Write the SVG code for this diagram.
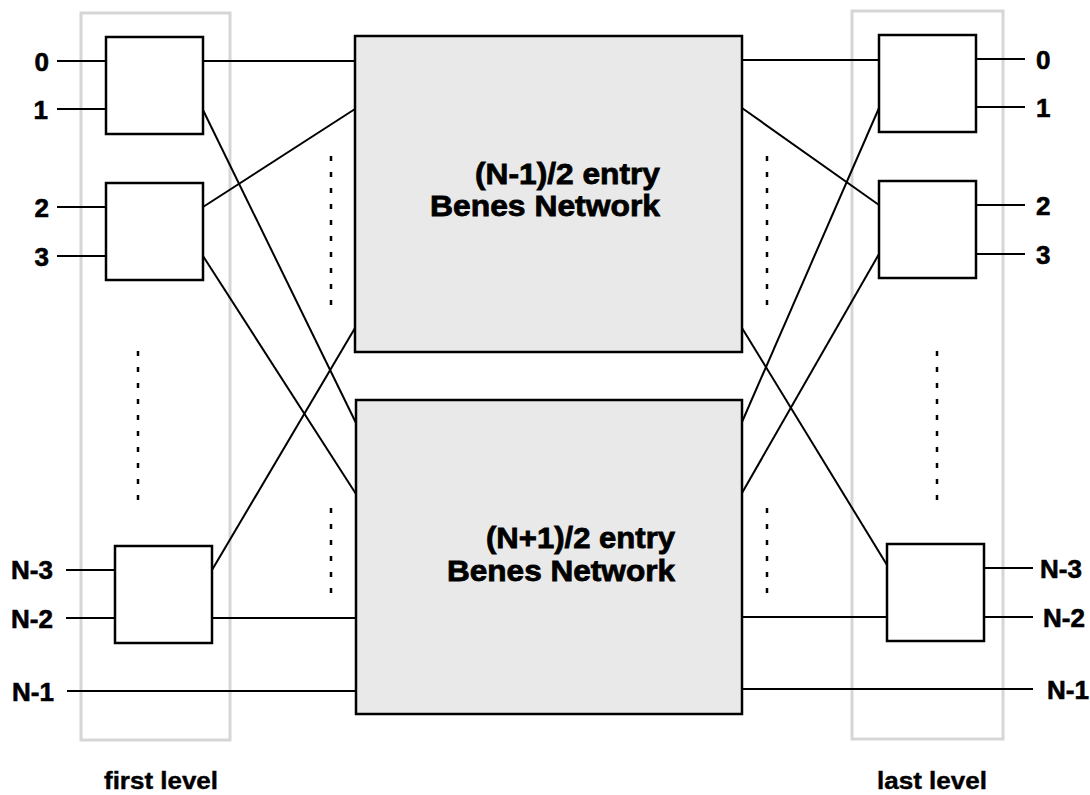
<svg xmlns="http://www.w3.org/2000/svg" width="1090" height="795" viewBox="0 0 1090 795">
<style>
.lvl{fill:none;stroke:#d6d6d6;stroke-width:3}
.sw{fill:#fff;stroke:#000;stroke-width:2.5}
.net{fill:#e9e9e9;stroke:#000;stroke-width:2.5}
.wire{fill:none;stroke:#000;stroke-width:2}
.dots{fill:none;stroke:#000;stroke-width:2.5;stroke-dasharray:5 11}
.lbl{font-family:"Liberation Sans",Arial,sans-serif;font-weight:bold;font-size:26px;fill:#000;stroke:#000;stroke-width:0.6}
.big{font-family:"Liberation Sans",Arial,sans-serif;font-weight:bold;font-size:30px;fill:#000;stroke:#000;stroke-width:0.8}
.cap{font-family:"Liberation Sans",Arial,sans-serif;font-weight:bold;font-size:23px;fill:#000;stroke:#000;stroke-width:0.4}
</style>
<rect width="1090" height="795" fill="#fff"/>
<g id="level-first"><rect class="lvl" x="81" y="13" width="149" height="727"/></g>
<g id="level-last"><rect class="lvl" x="852" y="11" width="151" height="728"/></g>
<g id="connectors">
<line class="wire" x1="57" y1="61" x2="106" y2="61"/>
<line class="wire" x1="57" y1="109" x2="106" y2="109"/>
<line class="wire" x1="57" y1="207" x2="106" y2="207"/>
<line class="wire" x1="57" y1="256" x2="106" y2="256"/>
<line class="wire" x1="66" y1="570" x2="115" y2="570"/>
<line class="wire" x1="66" y1="618" x2="115" y2="618"/>
<line class="wire" x1="67" y1="691" x2="356" y2="691"/>
<line class="wire" x1="203" y1="61" x2="355" y2="61"/>
<line class="wire" x1="203" y1="110" x2="356" y2="423"/>
<line class="wire" x1="203" y1="207" x2="355" y2="109"/>
<line class="wire" x1="203" y1="256" x2="356" y2="494"/>
<line class="wire" x1="212" y1="570" x2="355" y2="328"/>
<line class="wire" x1="212" y1="618" x2="356" y2="618"/>
<line class="wire" x1="742" y1="60" x2="879" y2="60"/>
<line class="wire" x1="742" y1="108" x2="879" y2="205"/>
<line class="wire" x1="742" y1="422" x2="879" y2="108"/>
<line class="wire" x1="742" y1="493" x2="879" y2="254"/>
<line class="wire" x1="742" y1="328" x2="887" y2="565"/>
<line class="wire" x1="742" y1="617" x2="887" y2="617"/>
<line class="wire" x1="742" y1="689" x2="1033" y2="689"/>
<line class="wire" x1="976" y1="59" x2="1025" y2="59"/>
<line class="wire" x1="976" y1="107" x2="1025" y2="107"/>
<line class="wire" x1="976" y1="205" x2="1025" y2="205"/>
<line class="wire" x1="976" y1="254" x2="1025" y2="254"/>
<line class="wire" x1="984" y1="568" x2="1033" y2="568"/>
<line class="wire" x1="984" y1="617" x2="1033" y2="617"/>
<line class="dots" x1="331" y1="156" x2="331" y2="305"/>
<line class="dots" x1="331" y1="508" x2="331" y2="595"/>
<line class="dots" x1="138" y1="351" x2="138" y2="500"/>
<line class="dots" x1="767" y1="156" x2="767" y2="305"/>
<line class="dots" x1="767" y1="508" x2="767" y2="595"/>
<line class="dots" x1="937" y1="351" x2="937" y2="500"/>
</g>
<g id="sw-l1"><rect class="sw" x="106" y="37" width="97" height="97"/></g>
<g id="sw-l2"><rect class="sw" x="106" y="183" width="97" height="97"/></g>
<g id="sw-l3"><rect class="sw" x="115" y="546" width="97" height="97"/></g>
<g id="sw-r1"><rect class="sw" x="879" y="35" width="97" height="97"/></g>
<g id="sw-r2"><rect class="sw" x="879" y="181" width="97" height="97"/></g>
<g id="sw-r3"><rect class="sw" x="887" y="544" width="97" height="97"/></g>
<g id="net-top">
<rect class="net" x="355" y="36" width="387" height="316"/>
<text class="big" x="660" y="184" text-anchor="end" textLength="185" lengthAdjust="spacingAndGlyphs">(N-1)/2 entry</text>
<text class="big" x="660" y="216" text-anchor="end" textLength="230" lengthAdjust="spacingAndGlyphs">Benes Network</text>
</g>
<g id="net-bottom">
<rect class="net" x="356" y="400" width="386" height="314"/>
<text class="big" x="675" y="548" text-anchor="end" textLength="189" lengthAdjust="spacingAndGlyphs">(N+1)/2 entry</text>
<text class="big" x="675" y="581" text-anchor="end" textLength="228" lengthAdjust="spacingAndGlyphs">Benes Network</text>
</g>
<g id="labels">
<text class="lbl" x="49" y="71" text-anchor="end">0</text>
<text class="lbl" x="48" y="119" text-anchor="end">1</text>
<text class="lbl" x="49" y="217" text-anchor="end">2</text>
<text class="lbl" x="49" y="266" text-anchor="end">3</text>
<text class="lbl" x="53" y="579" text-anchor="end">N-3</text>
<text class="lbl" x="53" y="628" text-anchor="end">N-2</text>
<text class="lbl" x="54" y="701" text-anchor="end">N-1</text>
<text class="lbl" x="1036" y="69">0</text>
<text class="lbl" x="1036" y="117">1</text>
<text class="lbl" x="1036" y="215">2</text>
<text class="lbl" x="1036" y="264">3</text>
<text class="lbl" x="1040" y="578">N-3</text>
<text class="lbl" x="1043" y="627">N-2</text>
<text class="lbl" x="1047" y="699">N-1</text>
<text class="cap" x="104" y="789" textLength="114" lengthAdjust="spacingAndGlyphs">first level</text>
<text class="cap" x="877" y="789" textLength="110" lengthAdjust="spacingAndGlyphs">last level</text>
</g>
</svg>
